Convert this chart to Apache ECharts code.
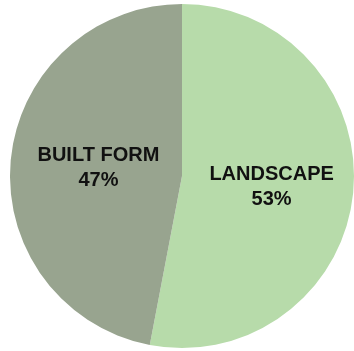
<!DOCTYPE html>
<html>
<head>
<meta charset="utf-8">
<script src="https://cdn.jsdelivr.net/npm/echarts@6/dist/echarts.min.js"></script>
<style>
  html, body { margin: 0; padding: 0; background: #fff; }
  #chart { width: 354px; height: 351px; }
</style>
</head>
<body>
<div id="chart"></div>
<script>
const categories = ['LANDSCAPE', 'BUILT FORM'];
const values = [53, 47];
const colors = ['#b7dbaa', '#98a48f'];
// small nudges so labels sit where the original has them
const labelOffsets = [[1, 3], [5, 0]];

const myChart = echarts.init(document.getElementById('chart'));

const option = {
  animation: false,
  series: [
    {
      type: 'pie',
      center: [182, 176],
      radius: 172,
      startAngle: 90,
      clockwise: true,
      data: categories.map((name, i) => ({
        name: name,
        value: values[i],
        itemStyle: { color: colors[i] },
        label: { offset: labelOffsets[i] }
      })),
      label: {
        show: true,
        position: 'inner',
        formatter: '{b}\n{c}%',
        color: '#111',
        fontFamily: 'Liberation Sans',
        fontWeight: 'bold',
        fontSize: 20,
        lineHeight: 25
      },
      labelLine: { show: false },
      emphasis: { disabled: true }
    }
  ]
};

myChart.setOption(option);
</script>
</body>
</html>
